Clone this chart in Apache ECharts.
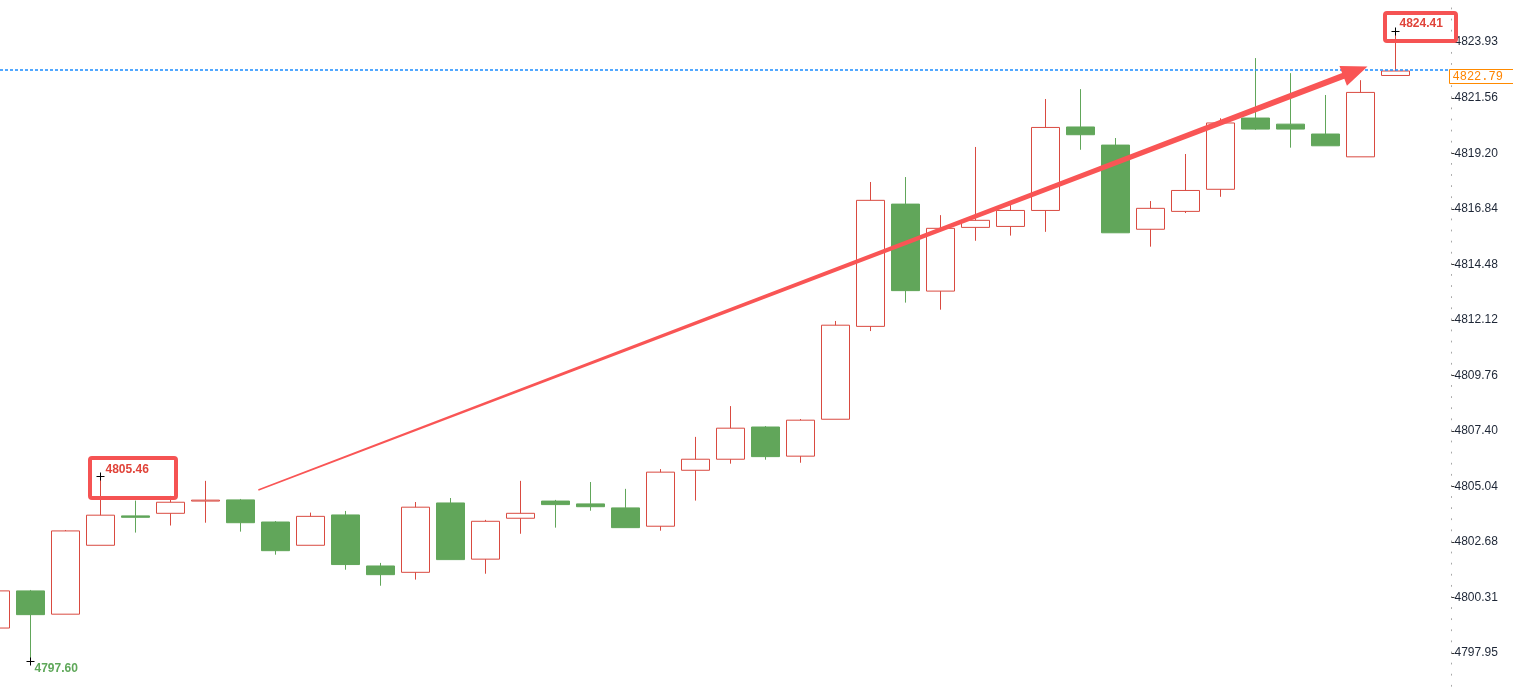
<!DOCTYPE html>
<html>
<head>
<meta charset="utf-8">
<script src="https://cdn.jsdelivr.net/npm/echarts@6/dist/echarts.min.js"></script>
<style>
  html, body { margin: 0; padding: 0; background: #fff; }
  #chart { width: 1513px; height: 696px; }
</style>
</head>
<body>
<div id="chart"></div>
<script>
// bar times (axis hidden, one spare slot on the right)
const times = ['10:00', '10:01', '10:02', '10:03', '10:04', '10:05', '10:06', '10:07', '10:08', '10:09',
  '10:10', '10:11', '10:12', '10:13', '10:14', '10:15', '10:16', '10:17', '10:18', '10:19',
  '10:20', '10:21', '10:22', '10:23', '10:24', '10:25', '10:26', '10:27', '10:28', '10:29',
  '10:30', '10:31', '10:32', '10:33', '10:34', '10:35', '10:36', '10:37', '10:38', '10:39',
  '10:40', '10:41']

const opens = [4799.01, 4800.59, 4799.60, 4802.53, 4803.78, 4803.89, 4804.41, 4804.46, 4803.52, 4802.53,
  4803.82, 4801.65, 4801.38, 4804.33, 4801.94, 4803.68, 4804.41, 4804.29, 4804.12, 4803.34,
  4805.72, 4806.19, 4807.56, 4806.32, 4807.89, 4811.84, 4817.04, 4813.34, 4816.05, 4816.09,
  4816.77, 4820.32, 4819.55, 4815.97, 4816.73, 4817.67, 4820.70, 4820.44, 4820.02, 4819.05,
  4822.51]
const closes = [4800.59, 4799.58, 4803.14, 4803.81, 4803.72, 4804.36, 4804.45, 4803.49, 4802.30, 4803.76,
  4801.71, 4801.28, 4804.15, 4801.92, 4803.55, 4803.89, 4804.26, 4804.17, 4803.28, 4805.64,
  4806.19, 4807.51, 4806.30, 4807.85, 4811.89, 4817.20, 4813.36, 4816.01, 4816.35, 4816.77,
  4820.30, 4819.99, 4815.82, 4816.86, 4817.62, 4820.49, 4820.23, 4820.23, 4819.52, 4821.79,
  4822.70]
const lows = [4798.90, 4797.60, 4799.60, 4802.53, 4803.07, 4803.37, 4803.49, 4803.11, 4802.13, 4802.53,
  4801.49, 4800.81, 4801.07, 4801.92, 4801.32, 4803.02, 4803.28, 4804.00, 4803.28, 4803.15,
  4804.43, 4806.00, 4806.17, 4806.04, 4807.89, 4811.64, 4812.85, 4812.55, 4815.48, 4815.70,
  4815.86, 4819.35, 4815.82, 4815.23, 4816.66, 4817.35, 4820.19, 4819.44, 4819.52, 4819.05,
  4822.51]
const highs = [4800.70, 4800.63, 4803.18, 4805.46, 4804.43, 4804.63, 4805.27, 4804.50, 4803.56, 4803.92,
  4803.99, 4801.78, 4804.37, 4804.54, 4803.61, 4805.27, 4804.46, 4805.22, 4804.93, 4805.77,
  4807.14, 4808.45, 4807.60, 4807.90, 4812.07, 4817.98, 4818.19, 4816.57, 4819.47, 4817.00,
  4821.51, 4821.93, 4819.85, 4817.17, 4819.17, 4820.69, 4823.25, 4822.61, 4821.68, 4822.31,
  4824.41]

const yTicks = [4797.95, 4800.31, 4802.68, 4805.04, 4807.40, 4809.76, 4812.12, 4814.48, 4816.84, 4819.20, 4821.56, 4823.93]
const lastPrice = 4822.79

// marked highs / lows: bar index and price
const markIdx = [3, 40, 1]
const markVal = [4805.46, 4824.41, 4797.60]

// trend arrow, [bar index, price]
const arrowFrom = [7.51, 4804.88]
const arrowTo = [39.2, 4822.89]

const UP = '#d94a40'
const DOWN = '#61a65a'
const NOTE = '#f55353'

// box / text placement around each mark (px)
const markStyle = [
  { box: [-11, -18, 86, 40], tx: 5, ty: -7, color: '#e0443a' },
  { box: [-11, -18, 71, 28], tx: 4, ty: -7, color: '#e0443a' },
  { box: null, tx: 4, ty: 7, color: '#5fa85a' }
]

const chart = echarts.init(document.getElementById('chart'))

const candles = opens.map((o, i) => [o, closes[i], lows[i], highs[i]])

const option = {
  animation: false,
  backgroundColor: '#fff',
  grid: { left: -22, right: 65, top: 0, bottom: 0, outerBoundsMode: 'none' },
  xAxis: [
    { type: 'category', data: times, show: false, boundaryGap: true },
    { type: 'value', min: -0.5, max: times.length - 0.5, show: false }
  ],
  yAxis: {
    type: 'value',
    position: 'right',
    offset: 3.5,
    min: 4796.12,
    max: 4825.72,
    scale: true,
    splitLine: { show: false },
    axisLine: {
      show: true,
      onZero: false,
      lineStyle: { color: '#a8a8a8', type: [1, 10.104], dashOffset: 1.38 }
    },
    axisTick: { show: true, length: 3, customValues: yTicks, lineStyle: { color: '#333' } },
    axisLabel: {
      customValues: yTicks,
      margin: 3,
      color: '#1d2636',
      fontSize: 12,
      fontFamily: 'Liberation Sans, Arial, sans-serif',
      formatter: v => v.toFixed(2)
    }
  },
  series: [
    {
      type: 'candlestick',
      data: candles,
      barWidth: 28,
      itemStyle: {
        color: '#fff',
        color0: DOWN,
        borderColor: UP,
        borderColor0: DOWN,
        borderWidth: 1
      }
    },
    {
      // last price: dashed line and tag on the axis
      type: 'custom',
      xAxisIndex: 1,
      z: 3,
      silent: true,
      encode: { x: 0, y: 1 },
      data: [[opens.length - 1, lastPrice]],
      renderItem: (params, api) => {
        const p = api.coord([api.value(0), api.value(1)])
        const cs = params.coordSys
        const x0 = Math.round(cs.x + cs.width) + 1.5
        const y0 = Math.round(p[1]) + 0.5
        return {
          type: 'group',
          children: [
            {
              type: 'line',
              shape: { x1: 0, y1: y0 + 0.5, x2: x0, y2: y0 + 0.5 },
              style: { stroke: '#1a8cff', lineWidth: 1.6, lineDash: [3, 2] }
            },
            { type: 'rect', shape: { x: x0, y: y0, width: 80, height: 14 }, style: { fill: '#fff', stroke: '#ff8a00', lineWidth: 1 } },
            {
              type: 'text',
              x: x0 + 3,
              y: y0 + 7.5,
              style: {
                text: lastPrice.toFixed(2),
                fill: '#ff8400',
                font: '12px "Liberation Mono", monospace',
                align: 'left',
                verticalAlign: 'middle'
              }
            }
          ]
        }
      }
    },
    {
      // trend arrow
      type: 'custom',
      xAxisIndex: 1,
      z: 4,
      silent: true,
      encode: { x: [0, 2], y: [1, 3] },
      data: [[arrowFrom[0], arrowFrom[1], arrowTo[0], arrowTo[1]]],
      renderItem: (params, api) => {
        const a = api.coord([api.value(0), api.value(1)])
        const b = api.coord([api.value(2), api.value(3)])
        const dx = b[0] - a[0]
        const dy = b[1] - a[1]
        const len = Math.hypot(dx, dy)
        const ux = dx / len, uy = dy / len
        const nx = -uy, ny = ux
        const headLen = 26, headHalf = 10.5, w0 = 0.7, w1 = 3.1
        const bx = b[0] - ux * headLen, by = b[1] - uy * headLen
        return {
          type: 'polygon',
          shape: {
            points: [
              [a[0] + nx * w0, a[1] + ny * w0],
              [bx + nx * w1, by + ny * w1],
              [bx + nx * headHalf, by + ny * headHalf],
              [b[0], b[1]],
              [bx - nx * headHalf, by - ny * headHalf],
              [bx - nx * w1, by - ny * w1],
              [a[0] - nx * w0, a[1] - ny * w0]
            ]
          },
          style: { fill: '#f95555' }
        }
      }
    },
    {
      // high / low marks
      type: 'custom',
      xAxisIndex: 1,
      z: 5,
      silent: true,
      encode: { x: 0, y: 1 },
      data: markIdx.map((i, k) => [i, markVal[k]]),
      renderItem: (params, api) => {
        const p = api.coord([api.value(0), api.value(1)])
        const s = markStyle[params.dataIndex]
        const cx = Math.floor(p[0]) + 0.5
        const cy = Math.round(p[1]) + 0.5
        const children = [
          { type: 'line', shape: { x1: cx - 4, y1: cy, x2: cx + 4, y2: cy }, style: { stroke: '#000', lineWidth: 1 } },
          { type: 'line', shape: { x1: cx, y1: cy - 4, x2: cx, y2: cy + 4 }, style: { stroke: '#000', lineWidth: 1 } },
          {
            type: 'text',
            x: p[0] + s.tx,
            y: p[1] + s.ty,
            style: {
              text: markVal[params.dataIndex].toFixed(2),
              fill: s.color,
              font: 'bold 12px "Liberation Sans", Arial, sans-serif',
              align: 'left',
              verticalAlign: 'middle'
            }
          }
        ]
        if (s.box) {
          children.push({
            type: 'rect',
            shape: { x: Math.round(p[0]) + s.box[0], y: Math.round(p[1]) + s.box[1], width: s.box[2], height: s.box[3], r: 2 },
            style: { fill: 'none', stroke: NOTE, lineWidth: 4 }
          })
        }
        return { type: 'group', children }
      }
    }
  ]
}

chart.setOption(option)
</script>
</body>
</html>
